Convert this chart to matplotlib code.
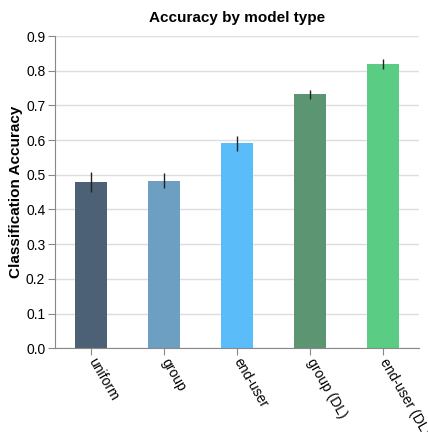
import matplotlib.pyplot as plt

plt.rcParams['font.family'] = ['Liberation Sans', 'DejaVu Sans']

models = ['uniform', 'group', 'end-user', 'group (DL)', 'end-user (DL)']
accuracy = [0.479, 0.482, 0.591, 0.733, 0.819]
err_low = [0.450, 0.461, 0.568, 0.718, 0.805]
err_high = [0.508, 0.505, 0.611, 0.744, 0.834]
colors = ['#4c6176', '#6c9fc1', '#5bbcfa', '#5b9571', '#5bcc84']


def main():
    fig = plt.figure(figsize=(4.28, 4.32), dpi=100)
    ax = fig.add_axes([0.1285, 0.194, 0.851, 0.7225])

    x = range(len(models))
    ax.bar(x, accuracy, width=0.44, color=colors, zorder=2)
    ax.vlines(x, err_low, err_high, color='#222222', linewidth=1, zorder=3)

    ax.set_xlim(-0.5, len(models) - 0.5)
    ax.set_ylim(0, 0.9)
    ax.set_yticks([i / 10 for i in range(10)])
    ax.set_yticklabels([f'{i / 10:.1f}' for i in range(10)], fontsize=10)
    ax.set_xticks(list(x))
    ax.set_xticklabels(models, rotation=-60, ha='left', va='center',
                       rotation_mode='anchor', fontsize=10)

    ax.grid(axis='y', color='#dddddd', linewidth=1, zorder=0)
    ax.set_axisbelow(True)
    for side in ['top', 'right']:
        ax.spines[side].set_visible(False)
    for side in ['left', 'bottom']:
        ax.spines[side].set_color('#888888')
    ax.tick_params(colors='#888888', labelcolor='black', length=5, pad=2)
    ax.tick_params(axis='x', pad=3)

    ax.set_title('Accuracy by model type', fontsize=11, fontweight='bold', pad=10)
    ax.set_ylabel('Classification Accuracy', fontsize=11, fontweight='bold', labelpad=2)

    fig.savefig('out.png', dpi=100)


if __name__ == '__main__':
    main()
